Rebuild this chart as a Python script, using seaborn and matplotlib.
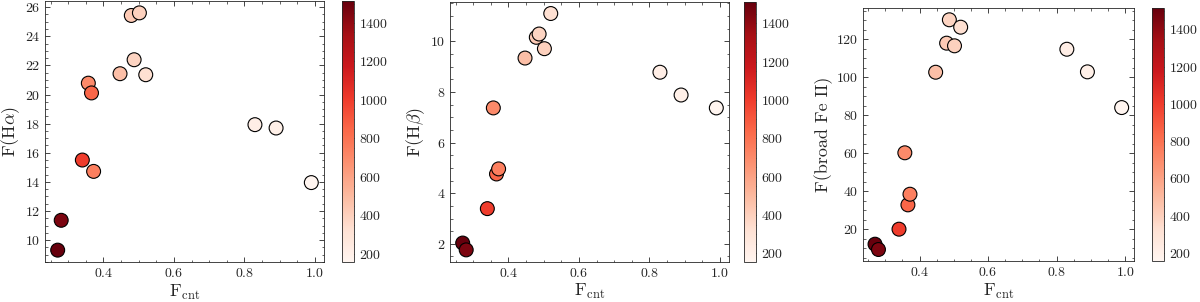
import numpy as np
import pandas as pd
import seaborn as sns
import matplotlib.pyplot as plt
from matplotlib import cm, colors
from matplotlib.ticker import AutoMinorLocator

sns.set_style('ticks')
plt.rcParams['font.family'] = ['cmr10', 'DejaVu Serif']
plt.rcParams['mathtext.fontset'] = 'cm'
plt.rcParams['axes.formatter.use_mathtext'] = True
plt.rcParams['axes.unicode_minus'] = False

f_cnt = [0.27, 0.28, 0.34, 0.357, 0.366, 0.372, 0.447, 0.479, 0.487, 0.502, 0.520, 0.83, 0.89, 0.99]
f_halpha = [9.31, 11.36, 15.5, 20.78, 20.11, 14.72, 21.43, 25.43, 22.39, 25.61, 21.36, 17.93, 17.7, 13.95]
f_hbeta = [2.03, 1.76, 3.39, 7.37, 4.76, 4.96, 9.34, 10.16, 10.29, 9.71, 11.1, 8.78, 7.88, 7.37]
f_feii = [12.1, 9.3, 20.0, 60.2, 32.8, 38.4, 102.6, 117.9, 130.2, 116.5, 126.3, 114.7, 102.8, 84.0]
c_val = [1513, 1450, 1000, 700, 850, 750, 480, 430, 380, 400, 330, 220, 200, 157]

df = pd.DataFrame({'fcnt': f_cnt, 'ha': f_halpha, 'hb': f_hbeta, 'fe': f_feii, 'c': c_val})

panels = [
    ('ha', r'F(H$\alpha$)', [45, 324, 1, 262], [341.7, 354.3]),
    ('hb', r'F(H$\beta$)', [450, 729, 1.7, 261.7], [743.5, 756]),
    ('fe', r'F(broad Fe II)', [862.7, 1134, 8.3, 261], [1151.7, 1164.3]),
]

W, H = 1200, 302
fig = plt.figure(figsize=(W / 100, H / 100), dpi=100)
norm = colors.Normalize(vmin=min(c_val), vmax=max(c_val))

for col, ylab, (x0, x1, y0, y1), (c0, c1) in panels:
    ax = fig.add_axes([x0 / W, (H - y1) / H, (x1 - x0) / W, (y1 - y0) / H])
    sns.scatterplot(data=df, x='fcnt', y=col, hue='c', palette='Reds', hue_norm=norm,
                    s=100, edgecolor='black', linewidth=0.8, legend=False, ax=ax, zorder=3)
    ax.set_xlabel(r'F$_{\rm cnt}$', fontsize=13, labelpad=2)
    ax.set_ylabel(ylab, fontsize=13, labelpad=2)
    ax.set_xticks([0.4, 0.6, 0.8, 1.0])
    ax.xaxis.set_minor_locator(AutoMinorLocator(4))
    ax.yaxis.set_minor_locator(AutoMinorLocator(4))
    ax.tick_params(which='both', direction='in', top=True, right=True, labelsize=10)
    ax.tick_params(which='major', length=3.5, width=0.6)
    ax.tick_params(which='minor', length=1.8, width=0.5)
    for s in ax.spines.values():
        s.set_linewidth(0.6)

    cax = fig.add_axes([c0 / W, (H - y1) / H, (c1 - c0) / W, (y1 - y0) / H])
    sm = cm.ScalarMappable(norm=norm, cmap='Reds')
    cb = fig.colorbar(sm, cax=cax)
    cb.set_ticks([200, 400, 600, 800, 1000, 1200, 1400])
    cb.ax.yaxis.set_minor_locator(AutoMinorLocator(4))
    cb.ax.tick_params(which='both', direction='in', labelsize=10)
    cb.ax.tick_params(which='major', length=3.5, width=0.6)
    cb.ax.tick_params(which='minor', length=1.8, width=0.5)
    cb.outline.set_linewidth(0.6)

fig.savefig('out.png', dpi=100)
